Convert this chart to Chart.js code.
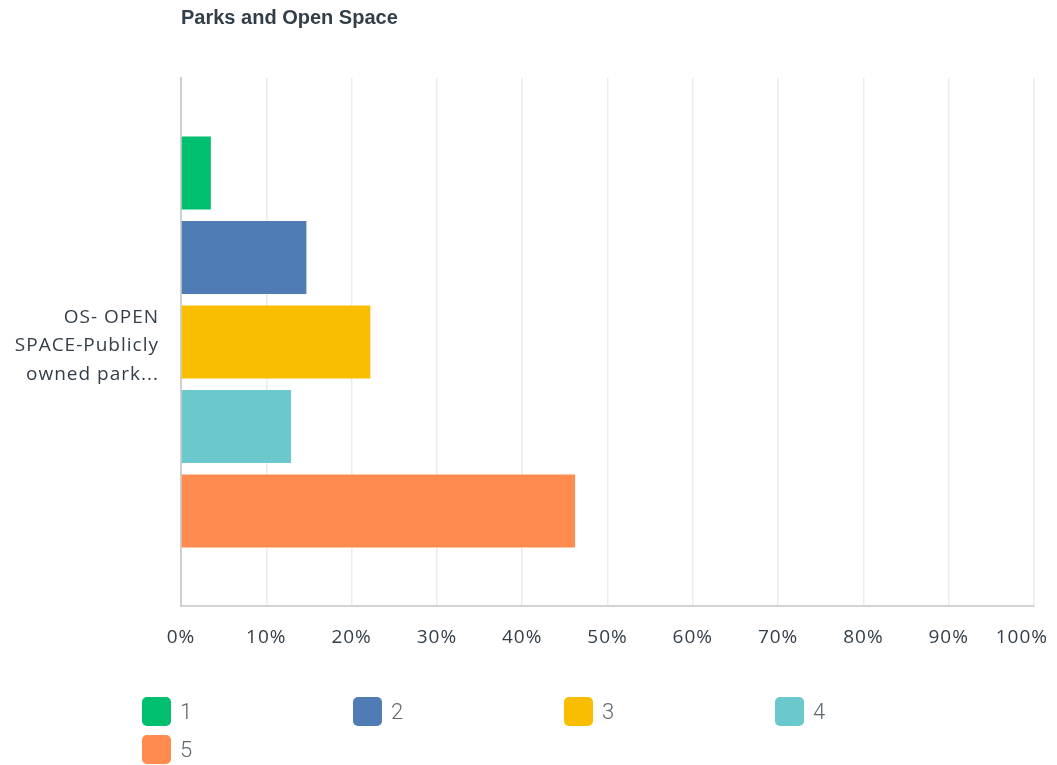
<!DOCTYPE html>
<html>
<head>
<meta charset="utf-8">
<script src="https://cdn.jsdelivr.net/npm/chart.js@4/dist/chart.umd.min.js"></script>
<style>
  html, body { margin: 0; padding: 0; background: #fff; }
  #wrap { position: relative; width: 1057px; height: 765px; }
  #chart { position: absolute; left: 0; top: 0; }
  #legend { position: absolute; left: 142px; top: 697px; width: 900px;
            font-family: Roboto, sans-serif; font-weight: 300; }
  .item { position: absolute; height: 29px; display: flex; align-items: center; }
  .swatch { width: 29px; height: 29px; border-radius: 5px; flex: none; }
  .lbl { margin-left: 9px; font-size: 22px; color: #5f686f; line-height: 29px; }
</style>
</head>
<body>
<div id="wrap">
  <canvas id="chart" width="1057" height="765"></canvas>
  <div id="legend"></div>
</div>
<script>
// Chart content
const chartTitle = 'Parks and Open Space';
const categories = [['OS- OPEN', 'SPACE-Publicly', 'owned park...']];
const seriesNames = ['1', '2', '3', '4', '5'];
const seriesValues = [[3.5], [14.7], [22.2], [12.9], [46.2]];
const seriesColors = ['#00bf6f', '#507cb6', '#f9be00', '#6bc8cd', '#ff8b4f'];
const tickValues = [0, 10, 20, 30, 40, 50, 60, 70, 80, 90, 100];

const textColor = '#333e48';
const fontFamily = '"Open Sans", Roboto, sans-serif';

// Slightly open tracking for the axis text
const trackingPlugin = {
  id: 'tracking',
  beforeDraw(chart) {
    if ('letterSpacing' in chart.ctx) chart.ctx.letterSpacing = '1px';
  }
};

// Keep the last x tick label inside the canvas
const edgeLabelPlugin = {
  id: 'edgeLabel',
  beforeDraw(chart) {
    const scale = chart.scales.x;
    const items = scale.getLabelItems(chart.chartArea);
    const last = items[items.length - 1];
    if (last) {
      const ctx = chart.ctx;
      ctx.save();
      ctx.font = last.font.string;
      const w = ctx.measureText(last.label).width + 4;
      ctx.restore();
      const maxCenter = chart.width - 7 - w / 2;
      if (last.options.translation[0] > maxCenter) last.options.translation[0] = maxCenter;
    }
  }
};

// Title drawn flush with the left edge of the plot area
const titlePlugin = {
  id: 'leftTitle',
  afterDraw(chart) {
    const ctx = chart.ctx;
    ctx.save();
    if ('letterSpacing' in ctx) ctx.letterSpacing = '0px';
    ctx.font = 'bold 20px "Liberation Sans", Arial, sans-serif';
    ctx.fillStyle = textColor;
    ctx.textBaseline = 'alphabetic';
    ctx.textAlign = 'left';
    ctx.fillText(chartTitle, chart.chartArea.left, 24);
    ctx.restore();
  }
};

const ctx = document.getElementById('chart').getContext('2d');
new Chart(ctx, {
  type: 'bar',
  data: {
    labels: categories,
    datasets: seriesNames.map((name, i) => ({
      label: name,
      data: seriesValues[i],
      backgroundColor: seriesColors[i],
      borderWidth: 0,
      categoryPercentage: 0.8,
      barPercentage: 0.865
    }))
  },
  options: {
    indexAxis: 'y',
    responsive: false,
    animation: false,
    layout: { padding: { left: 0, right: 23, top: 78, bottom: 109 } },
    plugins: {
      legend: { display: false },
      title: { display: false },
      tooltip: { enabled: false }
    },
    scales: {
      x: {
        min: 0,
        max: 100,
        afterBuildTicks(scale) { scale.ticks = tickValues.map(v => ({ value: v })); },
        afterFit(scale) {
          scale.height = 50;
          scale.paddingLeft = 0;
          scale.paddingRight = 0;
        },
        grid: { color: '#ebebeb', lineWidth: 1.5, drawTicks: false },
        border: { color: '#d3d3d3', width: 2 },
        ticks: {
          padding: 20,
          color: textColor,
          font: { family: fontFamily, size: 19 },
          callback: v => v + '%',
          maxRotation: 0
        }
      },
      y: {
        afterFit(scale) {
          scale.width = 181;
          scale.paddingTop = 0;
          scale.paddingBottom = 0;
        },
        grid: { display: false, drawTicks: false },
        border: { color: '#cfcfcf', width: 2 },
        ticks: {
          padding: 22,
          labelOffset: 4,
          color: textColor,
          font: { family: fontFamily, size: 19, lineHeight: 1.5 }
        }
      }
    }
  },
  plugins: [trackingPlugin, edgeLabelPlugin, titlePlugin]
});

// Legend laid out in fixed-width columns
const legend = document.getElementById('legend');
seriesNames.forEach((name, i) => {
  const item = document.createElement('div');
  item.className = 'item';
  item.style.left = (i % 4) * 211 + 'px';
  item.style.top = Math.floor(i / 4) * 38 + 'px';
  const sw = document.createElement('div');
  sw.className = 'swatch';
  sw.style.background = seriesColors[i];
  const lb = document.createElement('span');
  lb.className = 'lbl';
  lb.textContent = name;
  item.appendChild(sw);
  item.appendChild(lb);
  legend.appendChild(item);
});
</script>
</body>
</html>
